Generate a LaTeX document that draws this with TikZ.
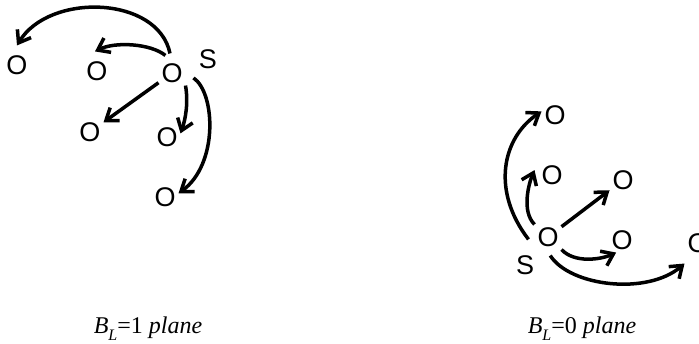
\documentclass[tikz,border=0pt]{standalone}
\usepackage{fontspec}
\setmainfont{Liberation Serif}
\newfontfamily\atomfont{Liberation Sans}
\usetikzlibrary{arrows.meta}

\newcommand{\planelabel}[1]{\textit{B}\raisebox{-0.28em}{\fontsize{16}{16}\selectfont\textit{L}}=#1 \textit{plane}}

\begin{document}
\begin{tikzpicture}[x=1pt,y=1pt,
  atom/.style={font=\atomfont\fontsize{27}{27}\selectfont,inner sep=0pt,outer sep=3pt},
  jump/.style={line width=3.5pt,-{Straight Barb[length=11pt,width=16pt]}},
  plane/.style={font=\fontsize{24}{24}\selectfont,anchor=base}]
\useasboundingbox (0,0) rectangle (699,344);

\node[atom] (src1) at (172,271) {O};
\node[atom] (S1) at (208,285) {S};
\node[atom] (a1) at (17,279) {O};
\node[atom] (a2) at (97,273) {O};
\node[atom] (a3) at (90,212) {O};
\node[atom] (a4) at (167,207) {O};
\node[atom] (a5) at (165,147) {O};

\draw[jump] ([xshift=-2pt,yshift=7pt]src1.north) .. controls +(-12,58) and +(32,53) .. ([yshift=7pt]a1.north);
\draw[jump] ([xshift=-2pt,yshift=5pt]src1.110) .. controls +(-15,12) and +(20,10) .. ([xshift=-2pt,yshift=7pt]a2.north);
\draw[jump] (src1) -- (a3);
\draw[jump] (src1.south east) .. controls +(3,-17) and +(5,14) .. (a4.15);
\draw[jump] ([xshift=8pt]src1.-20) .. controls +(22,-15) and +(40,29) .. (a5.15);

\node[atom] (src2) at (548,107) {O};
\node[atom] (S2) at (525,79) {S};
\node[atom] (b1) at (555,229) {O};
\node[atom] (b2) at (552,169) {O};
\node[atom] (b3) at (623,164) {O};
\node[atom] (b4) at (622,104) {O};
\node[atom] (b5) at (698,101) {O};

\draw[jump] ([xshift=-6pt]src2.190) .. controls +(-37,48) and +(-40,-27) .. (b1.165);
\draw[jump] (src2.north west) .. controls +(-13,13) and +(-6,-14) .. ([xshift=-4pt]b2.160);
\draw[jump] (src2) -- (b3);
\draw[jump] (src2.south east) .. controls +(13,-14) and +(-15,-7) .. (b4.245);
\draw[jump] ([yshift=-6pt]src2.-80) .. controls +(20,-31) and +(-37,-32) .. ([yshift=-8pt]b5.south west);

\node[plane] (lab1) at (148,10) {\planelabel{1}};
\node[plane] (lab2) at (582,10) {\planelabel{0}};
\end{tikzpicture}
\end{document}
